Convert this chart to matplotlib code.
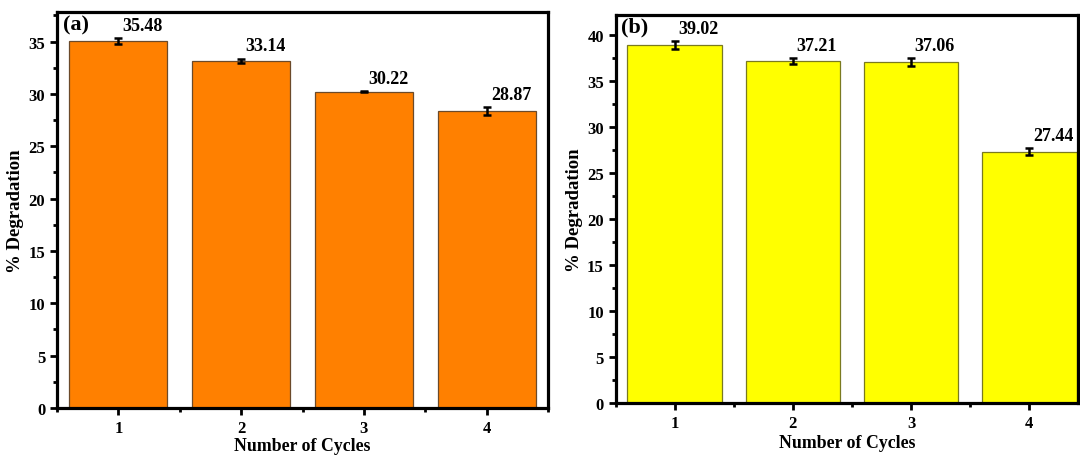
import matplotlib
matplotlib.use("Agg")
import matplotlib.pyplot as plt
from matplotlib.ticker import MultipleLocator

plt.rcParams['font.family'] = ['Liberation Serif', 'DejaVu Serif']
plt.rcParams['font.weight'] = 'bold'

# Data
cycles = [1, 2, 3, 4]
heights_a = [35.05, 33.15, 30.2, 28.35]
errors_a = [0.3, 0.22, 0.06, 0.4]
labels_a = ["35.48", "33.14", "30.22", "28.87"]

heights_b = [38.95, 37.2, 37.1, 27.35]
errors_b = [0.4, 0.35, 0.4, 0.35]
labels_b = ["39.02", "37.21", "37.06", "27.44"]


def draw_panel(ax, heights, errors, labels, color, edge, tag, ylim, xlim, xpad):
    ax.bar(cycles, heights, width=0.8, color=color, edgecolor=edge, linewidth=0.9,
           yerr=errors, capsize=3, error_kw=dict(ecolor='black', elinewidth=1.8, capthick=1.8))
    for x, h, e, lab in zip(cycles, heights, errors, labels):
        ax.annotate(lab, (x + 0.2, h + e), xytext=(0, 3), textcoords='offset points',
                    ha='center', va='bottom', fontsize=13, fontweight='bold')
    ax.set_xlim(*xlim)
    ax.set_ylim(*ylim)
    ax.set_xticks(cycles)
    ax.xaxis.set_minor_locator(MultipleLocator(0.5))
    ax.yaxis.set_major_locator(MultipleLocator(5))
    ax.yaxis.set_minor_locator(MultipleLocator(2.5))
    ax.tick_params(which='major', direction='out', length=5, width=2, labelsize=12)
    ax.tick_params(which='minor', direction='out', length=3, width=2)
    for lab in ax.get_xticklabels() + ax.get_yticklabels():
        lab.set_fontweight('bold')
    for sp in ax.spines.values():
        sp.set_linewidth(2.3)
    ax.set_xlabel("Number of Cycles", fontsize=12.8, fontweight='bold', labelpad=xpad)
    ax.set_ylabel("% Degradation", fontsize=13.5, fontweight='bold', labelpad=3)
    ax.text(0.012, 0.995, tag, transform=ax.transAxes, ha='left', va='top',
            fontsize=16, fontweight='bold')


fig = plt.figure(figsize=(10.8, 4.56), dpi=100)
ax1 = fig.add_axes([0.0528, 0.103, 0.4546, 0.868])
ax2 = fig.add_axes([0.570, 0.114, 0.428, 0.851])

draw_panel(ax1, heights_a, errors_a, labels_a, '#FF8000', '#6b4a2a', '(a)', (0, 37.8), (0.5, 4.5), 0.5)
draw_panel(ax2, heights_b, errors_b, labels_b, '#FFFF00', '#7a7a20', '(b)', (0, 42.2), (0.5, 4.41), 2)

fig.savefig("out.png", dpi=100)
